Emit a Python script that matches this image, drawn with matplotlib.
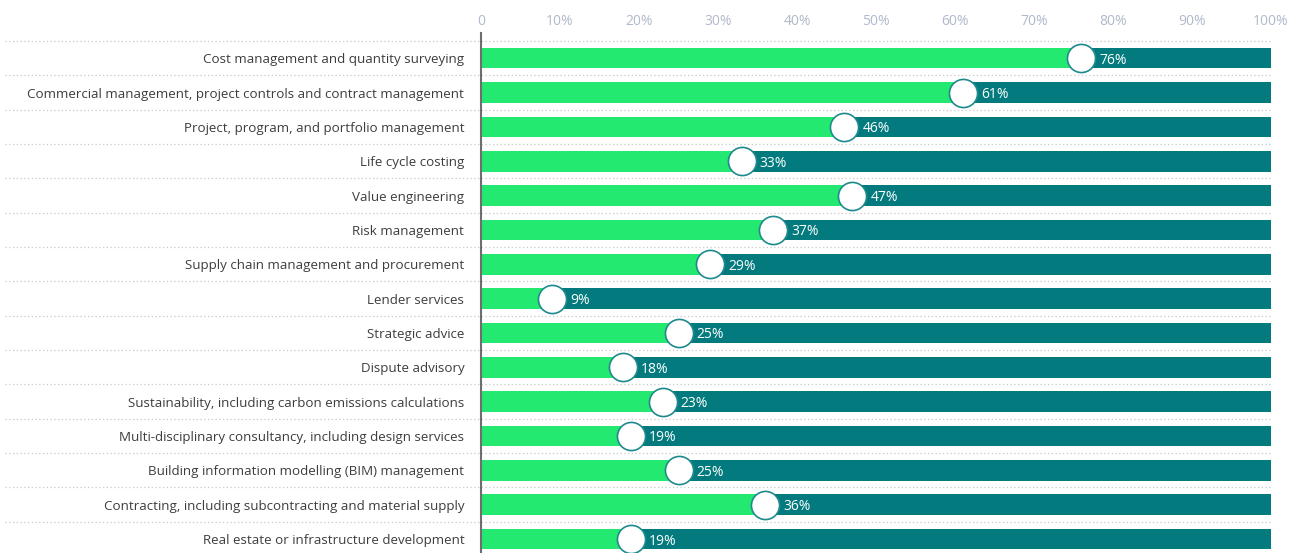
import matplotlib.pyplot as plt

plt.rcParams['font.family'] = ['Open Sans', 'DejaVu Sans']

categories = [
    "Cost management and quantity surveying",
    "Commercial management, project controls and contract management",
    "Project, program, and portfolio management",
    "Life cycle costing",
    "Value engineering",
    "Risk management",
    "Supply chain management and procurement",
    "Lender services",
    "Strategic advice",
    "Dispute advisory",
    "Sustainability, including carbon emissions calculations",
    "Multi-disciplinary consultancy, including design services",
    "Building information modelling (BIM) management",
    "Contracting, including subcontracting and material supply",
    "Real estate or infrastructure development",
]
values = [76, 61, 46, 33, 47, 37, 29, 9, 25, 18, 23, 19, 25, 36, 19]
ticks = [0, 10, 20, 30, 40, 50, 60, 70, 80, 90, 100]
tick_labels = ["0"] + [f"{t}%" for t in ticks[1:]]

green = "#23e970"
teal = "#037b7e"

fig = plt.figure(figsize=(12.98, 5.53), dpi=100)
ax = fig.add_axes([481 / 1298, 0, 790 / 1298, 1 - 33 / 553])

ypos = list(range(len(categories)))
ax.barh(ypos, [100] * len(values), height=0.6, color=teal, zorder=2)
ax.barh(ypos, values, height=0.6, color=green, zorder=3)
ax.scatter(values, ypos, s=410, facecolor="white", edgecolor="#1f8a8c",
           linewidth=1.2, zorder=4, clip_on=False)
for v, y in zip(values, ypos):
    ax.annotate(f"{v}%", (v, y), xytext=(13, 0), textcoords="offset points",
                ha="left", va="center_baseline", color="white", fontsize=10,
                zorder=5)

# dotted row separators running into the label area
trans = ax.get_yaxis_transform()
for k in range(len(categories) + 1):
    ax.plot([-0.6025, 1.0], [k - 0.5, k - 0.5], transform=trans,
            linestyle=(0, (1, 2)), color="#c8c8c8", linewidth=0.9,
            clip_on=False, zorder=1)

ax.set_xlim(0, 100)
ax.set_ylim(14 + 14 / 34.36, -0.5 - 8 / 34.36)

ax.xaxis.tick_top()
ax.set_xticks(ticks)
ax.set_xticklabels(tick_labels)
ax.tick_params(axis="x", length=0, pad=3, labelsize=10, labelcolor="#b0b9cb")
ax.set_yticks(ypos)
ax.set_yticklabels(categories)
ax.tick_params(axis="y", length=0, pad=12, labelsize=9.65, labelcolor="#3d3d3d")

for s in ["top", "right", "bottom"]:
    ax.spines[s].set_visible(False)
ax.spines["left"].set_color("#6e6e6e")
ax.spines["left"].set_linewidth(1.5)
ax.spines["left"].set_zorder(6)

plt.savefig("out.png", dpi=100)
